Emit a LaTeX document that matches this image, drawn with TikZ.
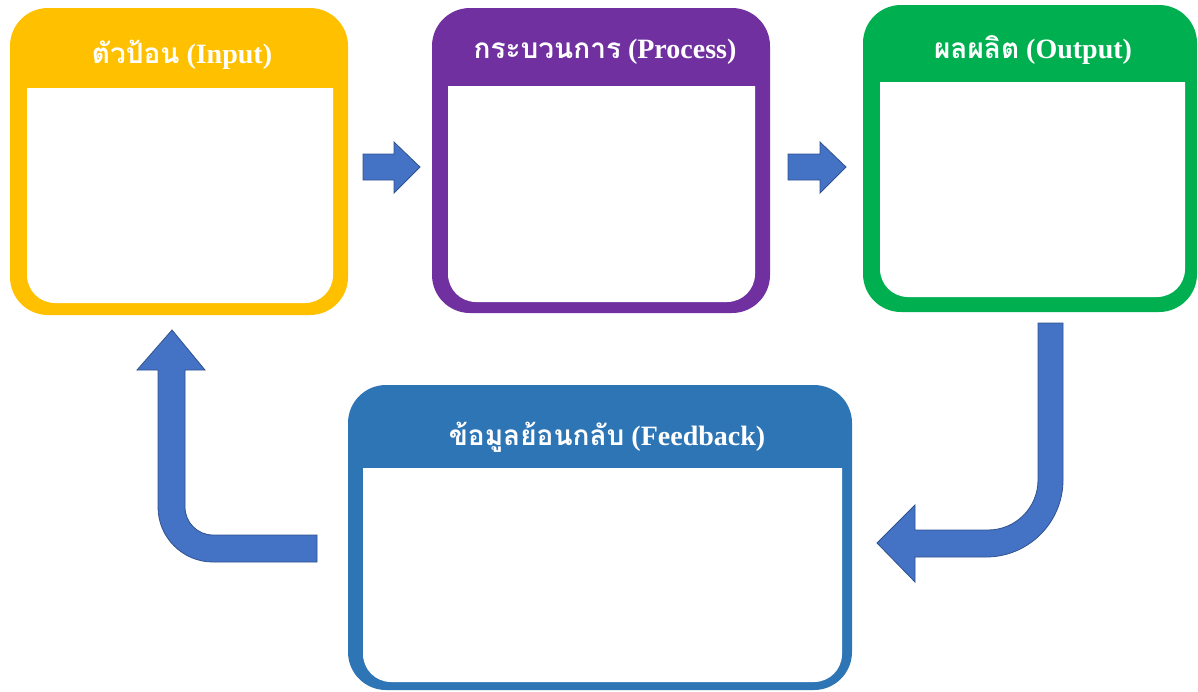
\documentclass[tikz,border=0pt]{standalone}
\usepackage{fontspec}
\setmainfont{Liberation Serif}
\newfontfamily\thaifont[Script=Thai]{Loma}
\usetikzlibrary{calc}
\definecolor{inputyellow}{HTML}{FFC000}
\definecolor{processpurple}{HTML}{7030A0}
\definecolor{outputgreen}{HTML}{00B050}
\definecolor{feedbackblue}{HTML}{2E75B6}
\definecolor{arrowblue}{HTML}{4472C4}
\definecolor{arrowedge}{HTML}{2F528F}
\tikzset{
    stage/.style={rectangle, rounded corners=38pt, inner sep=0pt},
    title/.style={text=white, font=\bfseries\fontsize{28}{30}\selectfont, inner sep=0pt},
    blockarrow/.style={fill=arrowblue, draw=arrowedge, line width=0.8pt, line join=miter}
}
\begin{document}
\begin{tikzpicture}[x=1pt, y=-1pt]
    \useasboundingbox (0,0) rectangle (1198,691);
    %% boxes
    \node[stage, fill=inputyellow, minimum width=338pt, minimum height=307pt] (input) at (179,161.5) {};
    \node[stage, fill=processpurple, minimum width=338pt, minimum height=305pt] (process) at (601,160.5) {};
    \node[stage, fill=outputgreen, minimum width=334pt, minimum height=307pt] (output) at (1030,158.5) {};
    \node[stage, fill=feedbackblue, minimum width=504pt, minimum height=305pt] (feedback) at (600,537.5) {};
    %% white panels
    \fill[white, rounded corners=28pt] (27,50) rectangle (333,303);
    \fill[inputyellow] (26,48) rectangle (334,88);
    \fill[white, rounded corners=28pt] (448,50) rectangle (755,302);
    \fill[processpurple] (447,48) rectangle (756,86);
    \fill[white, rounded corners=28pt] (880,50) rectangle (1185,297);
    \fill[outputgreen] (879,48) rectangle (1186,82);
    \fill[white, rounded corners=28pt] (363,430) rectangle (842,682);
    \fill[feedbackblue] (362,428) rectangle (843,468);
    %% titles
    \node[title] (input title) at (182,55) {{\thaifont ตัวป้อน} (Input)};
    \node[title] (process title) at (605,52) {{\thaifont กระบวนการ} (Process)};
    \node[title] (output title) at (1033,50) {{\thaifont ผลผลิต} (Output)};
    \node[title] (feedback title) at (607,437) {{\thaifont ข้อมูลย้อนกลับ} (Feedback)};
    %% arrows
    \coordinate (in2pr) at (363,167);
    \coordinate (pr2out) at (788,167);
    \fill[blockarrow] (in2pr) ++(0,-13) -- ++(31,0) -- ++(0,-12) -- ++(26,25) -- ++(-26,26) -- ++(0,-13) -- ++(-31,0) -- cycle;
    \fill[blockarrow] (pr2out) ++(0,-13) -- ++(32,0) -- ++(0,-12) -- ++(26,25) -- ++(-26,26) -- ++(0,-13) -- ++(-32,0) -- cycle;
    %% feedback loop
    \coordinate (out2fb) at (1050,323);
    \coordinate (fb2in) at (317,548);
    \fill[blockarrow] (out2fb) ++(-12,0) -- ++(25,0) -- (1063,480) arc (0:90:77) -- (915,557) -- (915,582) -- (877,543) -- (915,505) -- (915,530) -- (988,530) arc (90:0:50) -- cycle;
    \fill[blockarrow] (fb2in) ++(0,-13) -- (213,535) arc (90:180:28) -- (185,370) -- (205,370) -- (172,330) -- (137,370) -- (158,370) -- (158,507) arc (180:90:55) -- (317,562) -- cycle;
\end{tikzpicture}
\end{document}
